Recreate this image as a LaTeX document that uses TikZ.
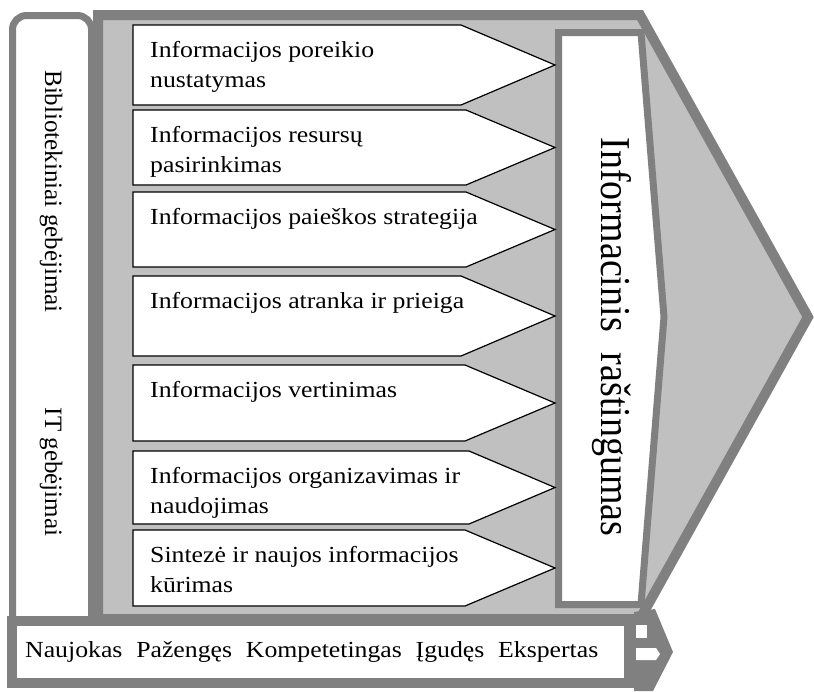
\documentclass[tikz,border=0pt]{standalone}
\usepackage{fontspec}
\setmainfont{Liberation Serif}[FakeStretch=1.12]
\newfontfamily\sideserif{Liberation Serif}
\definecolor{framegray}{HTML}{808080}
\definecolor{fillgray}{HTML}{C0C0C0}
\begin{document}
\begin{tikzpicture}[x=1pt,y=-1pt,
        frame/.style={draw=framegray,line width=10pt},
        stepbox/.style={draw=black,fill=white,line width=1.2pt},
        steptext/.style={anchor=north west,inner sep=0pt,align=left,
            font=\fontsize{23}{30}\selectfont},
        sidetext/.style={rotate=-90,inner sep=0pt,
            font=\sideserif\fontsize{25}{30}\selectfont}]
        \useasboundingbox (0,0) rectangle (814,691);
        % \draw[help lines,step=50] (0,0) grid (814,691);
        % big arrow behind everything
        \draw[frame,fill=fillgray] (98,15) -- (640,15) -- (808,317) -- (640,619) -- (98,619) -- cycle;
        % left column with rounded top
        \draw[draw=framegray,line width=7pt,fill=white,rounded corners=14pt]
            (12.5,650) -- (12.5,15.5) -- (91.5,15.5) -- (91.5,650);
        \node[sidetext] (lib) at (51,191.5) {Bibliotekiniai gebėjimai};
        \node[sidetext] (it) at (51,472) {IT gebėjimai};
        % result box
        \draw[draw=framegray,line width=7pt,fill=white]
            (558.5,32.5) -- (641,32.5) -- (664,317) -- (641,604.5) -- (558.5,604.5) -- cycle;
        \node[rotate=-90,inner sep=0pt,font=\sideserif\fontsize{38}{42}\selectfont]
            (ir) at (612,337) {\scalebox{1}[1.12]{Informacinis\hspace{0.3em} raštingumas}};
        % steps
        \draw[stepbox] (133,25) -- (461,25) -- (555,65) -- (461,105) -- (133,105) -- cycle;
        \draw[stepbox] (133,110) -- (466,110) -- (555,147.5) -- (466,185) -- (133,185) -- cycle;
        \draw[stepbox] (133,192) -- (466,192) -- (555,229.5) -- (466,267) -- (133,267) -- cycle;
        \draw[stepbox] (133,276) -- (461,276) -- (555,316) -- (461,356) -- (133,356) -- cycle;
        \draw[stepbox] (133,365) -- (465,365) -- (555,403) -- (465,441) -- (133,441) -- cycle;
        \draw[stepbox] (133,451) -- (469,451) -- (555,487.5) -- (469,524) -- (133,524) -- cycle;
        \draw[stepbox] (133,530) -- (465,530) -- (555,568) -- (465,606) -- (133,606) -- cycle;
        \node[steptext] (a) at (150,41) {Informacijos poreikio\\nustatymas};
        \node[steptext] (b) at (150,126) {Informacijos resursų\\pasirinkimas};
        \node[steptext] (c) at (150,208) {Informacijos paieškos strategija};
        \node[steptext] (d) at (150,292) {Informacijos atranka ir prieiga};
        \node[steptext] (e) at (150,381) {Informacijos vertinimas};
        \node[steptext] (f) at (150,467) {Informacijos organizavimas ir\\naudojimas};
        \node[steptext] (g) at (150,546) {Sintezė ir naujos informacijos\\kūrimas};
        % level bar with small head
        \fill[framegray] (634,612) -- (655,609) -- (673,652) -- (653,691) -- (634,691) -- cycle;
        \fill[white] (636,625) rectangle (647,638);
        \fill[white] (636,648) -- (656,648) -- (660,654) -- (656,660) -- (636,660) -- cycle;
        \draw[frame,fill=white] (12,620.5) rectangle (629,683);
        \node[anchor=base west,inner sep=0pt,font=\fontsize{23}{30}\selectfont] (lvl) at (25,657)
            {Naujokas\hspace{0.6em}Pažengęs\hspace{0.6em}Kompetetingas\hspace{0.6em}Įgudęs\hspace{0.6em}Ekspertas};
\end{tikzpicture}
\end{document}
